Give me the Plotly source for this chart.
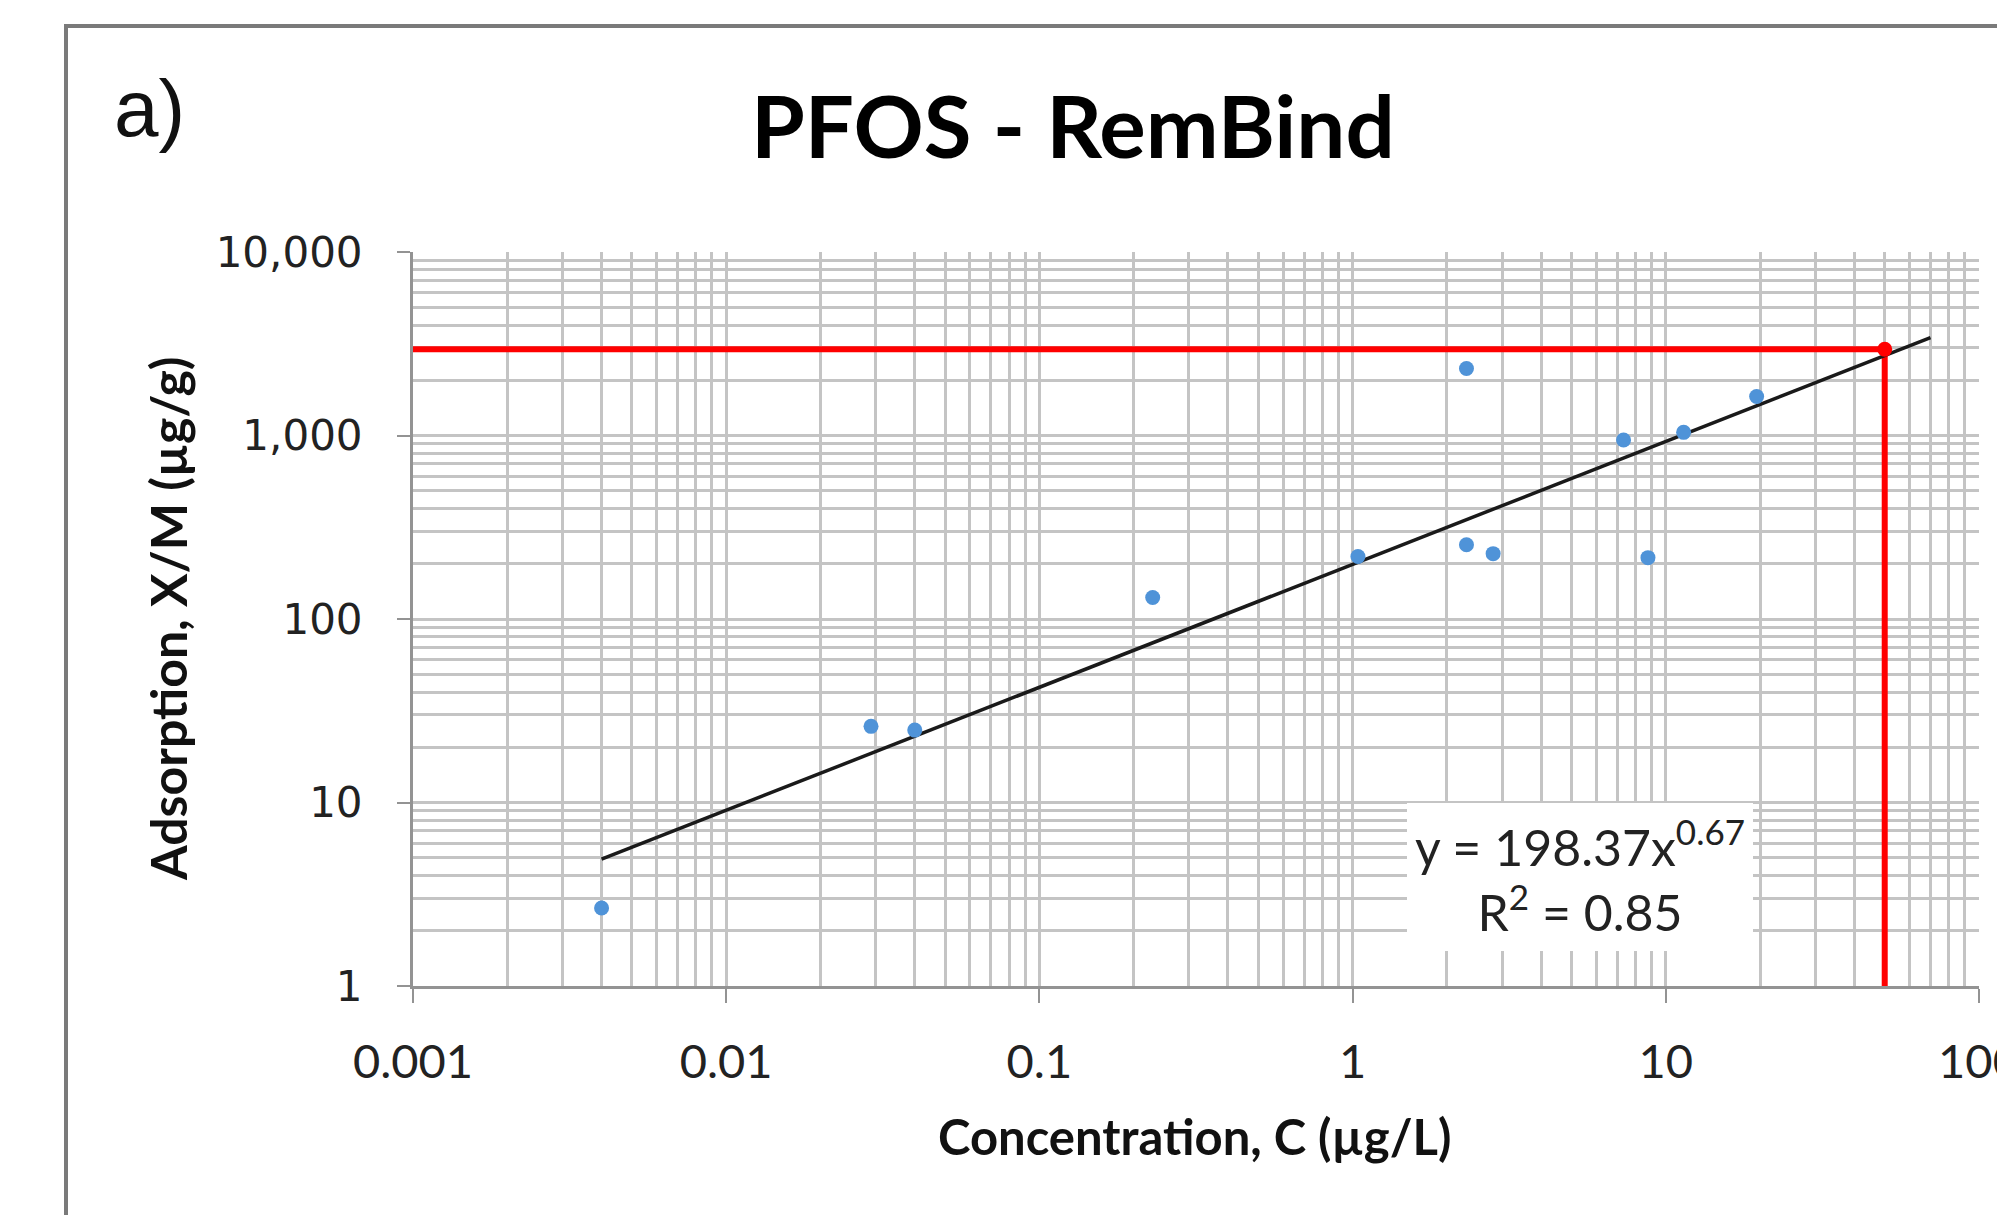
import plotly.graph_objects as go

# ---- data ----
conc = [0.004, 0.029, 0.040, 0.23, 1.04, 2.31, 2.31, 2.81, 7.33, 8.77, 11.4, 19.5]
adsorb = [2.66, 26.0, 24.8, 131, 219, 2320, 254, 227, 945, 216, 1040, 1630]

trend_x = [0.004, 70]
trend_y = [4.91, 3420]

target_x = [50]
target_y = [2950]
red_h_x = [0.001, 50]
red_h_y = [2950, 2950]
red_v_x = [50, 50]
red_v_y = [2950, 1]

x_tickvals = [0.001, 0.01, 0.1, 1, 10, 100]
x_ticktext = ["0.001", "0.01", "0.1", "1", "10", "100"]
y_tickvals = [1, 10, 100, 1000, 10000]
y_ticktext = ["1", "10", "100", "1,000", "10,000"]

title_text = "PFOS - RemBind"
panel_label = "a)"
x_title = "Concentration, C (µg/L)"
y_title = "Adsorption, X/M (µg/g)"
eq_text = "y = 198.37x<sup>0.67</sup><br>R<sup>2</sup> = 0.85"

# ---- layout geometry (window pixels; page body has an 8px margin) ----
OFF = 8
W, H = 2005 - OFF, 1215 - OFF
L, R, T, B = 413, 1979, 252, 986
PW, PH = R - L, B - T


def fx(px):
    return (px - L) / PW


def fy(py):
    return (B - py) / PH


GRID = "#C4C4C4"
AXIS = "#939393"

fig = go.Figure()

fig.add_trace(go.Scatter(x=red_h_x, y=red_h_y, mode="lines",
                         line=dict(color="#FF0000", width=6), hoverinfo="skip"))
fig.add_trace(go.Scatter(x=red_v_x, y=red_v_y, mode="lines",
                         line=dict(color="#FF0000", width=6), hoverinfo="skip"))
fig.add_trace(go.Scatter(x=trend_x, y=trend_y, mode="lines",
                         line=dict(color="#1A1A1A", width=3.5)))
fig.add_trace(go.Scatter(x=conc, y=adsorb, mode="markers",
                         marker=dict(symbol="circle", size=15, color="#4F93D8")))
fig.add_trace(go.Scatter(x=target_x, y=target_y, mode="markers",
                         marker=dict(symbol="circle", size=15, color="#FF0000")))

axis_common = dict(
    type="log",
    showgrid=True, gridcolor=GRID, gridwidth=3,
    showline=True, linecolor=AXIS, linewidth=3,
    ticks="outside", tickcolor=AXIS, tickwidth=2,
    zeroline=False, mirror=False,
    ticklabeloverflow="allow",
    minor=dict(dtick="D1", showgrid=True, gridcolor=GRID, gridwidth=3, ticks=""),
)

fig.update_xaxes(
    **axis_common,
    range=[-3, 2],
    tickmode="array", tickvals=x_tickvals, ticktext=x_ticktext,
    ticklen=14, ticklabelstandoff=19,
    tickfont=dict(family="Lato", size=47, color="#222222"),
)
fig.update_yaxes(
    **axis_common,
    range=[0, 4],
    tickmode="array", tickvals=y_tickvals, ticktext=y_ticktext,
    ticklen=13, ticklabelstandoff=26,
    tickfont=dict(family="DejaVu Sans", size=42, color="#222222"),
)

annotations = [
    dict(text=title_text, x=fx(1073), y=fy(125), xref="paper", yref="paper",
         showarrow=False, xanchor="center", yanchor="middle",
         font=dict(family="Lato", size=87, color="#000000", weight="bold")),
    dict(text=panel_label, x=fx(112), y=fy(108), xref="paper", yref="paper",
         showarrow=False, xanchor="left", yanchor="middle",
         font=dict(family="Liberation Sans", size=80, color="#111111")),
    dict(text=x_title, x=fx(1194), y=fy(1136), xref="paper", yref="paper",
         showarrow=False, xanchor="center", yanchor="middle",
         font=dict(family="Lato", size=49, color="#111111", weight="bold")),
    dict(text=y_title, x=fx(168), y=fy(619), xref="paper", yref="paper",
         showarrow=False, xanchor="center", yanchor="middle", textangle=-90,
         font=dict(family="Lato", size=50, color="#111111", weight="bold")),
    dict(text=eq_text, x=fx(1580), y=fy(876), xref="paper", yref="paper",
         showarrow=False, xanchor="center", yanchor="middle", align="center",
         font=dict(family="Lato", size=50, color="#222222")),
]

shapes = [
    # white background of the equation label
    dict(type="rect", xref="paper", yref="paper",
         x0=fx(1407), x1=fx(1753), y0=fy(951), y1=fy(803),
         line=dict(width=0), fillcolor="#FFFFFF", layer="above"),
    # outer chart border
    dict(type="rect", xref="paper", yref="paper",
         x0=fx(66), y0=fy(1400), x1=fx(2200), y1=fy(26),
         line=dict(color="#7A7A7A", width=4), fillcolor="rgba(0,0,0,0)", layer="above"),
]

fig.update_layout(
    width=W, height=H,
    margin=dict(l=L - OFF, r=W - (R - OFF), t=T - OFF, b=H - (B - OFF), pad=0),
    paper_bgcolor="#FFFFFF", plot_bgcolor="#FFFFFF",
    template="none",
    showlegend=False,
    annotations=annotations,
    shapes=shapes,
)

fig.write_html("out.html")
